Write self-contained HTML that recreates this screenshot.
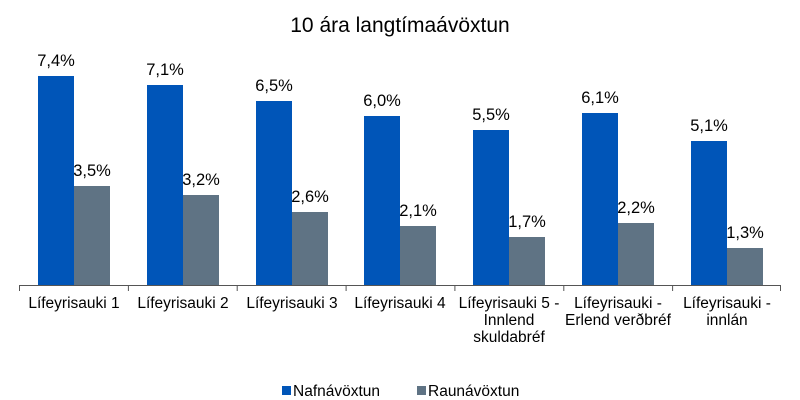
<!DOCTYPE html>
<html><head><meta charset="utf-8"><style>body{margin:0;background:#fff}svg{display:block;font-family:"Liberation Sans",Arial,sans-serif}</style></head><body>
<svg width="800" height="400" xmlns="http://www.w3.org/2000/svg">
<text x="400" y="32" font-size="21" text-anchor="middle" fill="#000">10 ára langtímaávöxtun</text>
<line x1="19" y1="285.5" x2="781" y2="285.5" stroke="#555" stroke-width="1"/>
<g stroke="#555" stroke-width="1">
<line x1="19.5" y1="285" x2="19.5" y2="291"/><line x1="128.4" y1="285" x2="128.4" y2="291"/><line x1="237.2" y1="285" x2="237.2" y2="291"/><line x1="346.1" y1="285" x2="346.1" y2="291"/><line x1="454.9" y1="285" x2="454.9" y2="291"/><line x1="563.8" y1="285" x2="563.8" y2="291"/><line x1="672.6" y1="285" x2="672.6" y2="291"/><line x1="780.5" y1="285" x2="780.5" y2="291"/>
</g>
<g fill="#0055B8">
<rect x="38" y="76" width="36" height="209"/>
<rect x="147" y="85" width="36" height="200"/>
<rect x="256" y="101" width="36" height="184"/>
<rect x="364" y="116" width="36" height="169"/>
<rect x="473" y="130" width="36" height="155"/>
<rect x="582" y="113" width="36" height="172"/>
<rect x="691" y="141" width="36" height="144"/>
</g>
<g fill="#5F7384">
<rect x="74" y="186" width="36" height="99"/>
<rect x="183" y="195" width="36" height="90"/>
<rect x="292" y="212" width="36" height="73"/>
<rect x="400" y="226" width="36" height="59"/>
<rect x="509" y="237" width="36" height="48"/>
<rect x="618" y="223" width="36" height="62"/>
<rect x="727" y="248" width="36" height="37"/>
</g>
<g font-size="16.5" text-anchor="middle" fill="#000">
<text x="56" y="66">7,4%</text><text x="92" y="176">3,5%</text>
<text x="165" y="75">7,1%</text><text x="201" y="185">3,2%</text>
<text x="274" y="91">6,5%</text><text x="310" y="202">2,6%</text>
<text x="382" y="106">6,0%</text><text x="418" y="216">2,1%</text>
<text x="491" y="120">5,5%</text><text x="527" y="227">1,7%</text>
<text x="600" y="103">6,1%</text><text x="636" y="213">2,2%</text>
<text x="709" y="131">5,1%</text><text x="745" y="238">1,3%</text>
</g>
<g font-size="15.5" text-anchor="middle" fill="#000">
<text x="74" y="308">Lífeyrisauki 1</text>
<text x="183" y="308">Lífeyrisauki 2</text>
<text x="292" y="308">Lífeyrisauki 3</text>
<text x="400" y="308">Lífeyrisauki 4</text>
<text x="509" y="308">Lífeyrisauki 5 -</text><text x="509" y="325">Innlend</text><text x="509" y="342">skuldabréf</text>
<text x="618" y="308">Lífeyrisauki  -</text><text x="618" y="325">Erlend verðbréf</text>
<text x="727" y="308">Lífeyrisauki -</text><text x="727" y="325">innlán</text>
</g>
<rect x="282" y="386" width="9" height="9" fill="#0055B8"/>
<text x="293" y="396" font-size="15.5">Nafnávöxtun</text>
<rect x="417" y="386" width="9" height="9" fill="#5F7384"/>
<text x="428" y="396" font-size="15.5">Raunávöxtun</text>
</svg>
</body></html>
